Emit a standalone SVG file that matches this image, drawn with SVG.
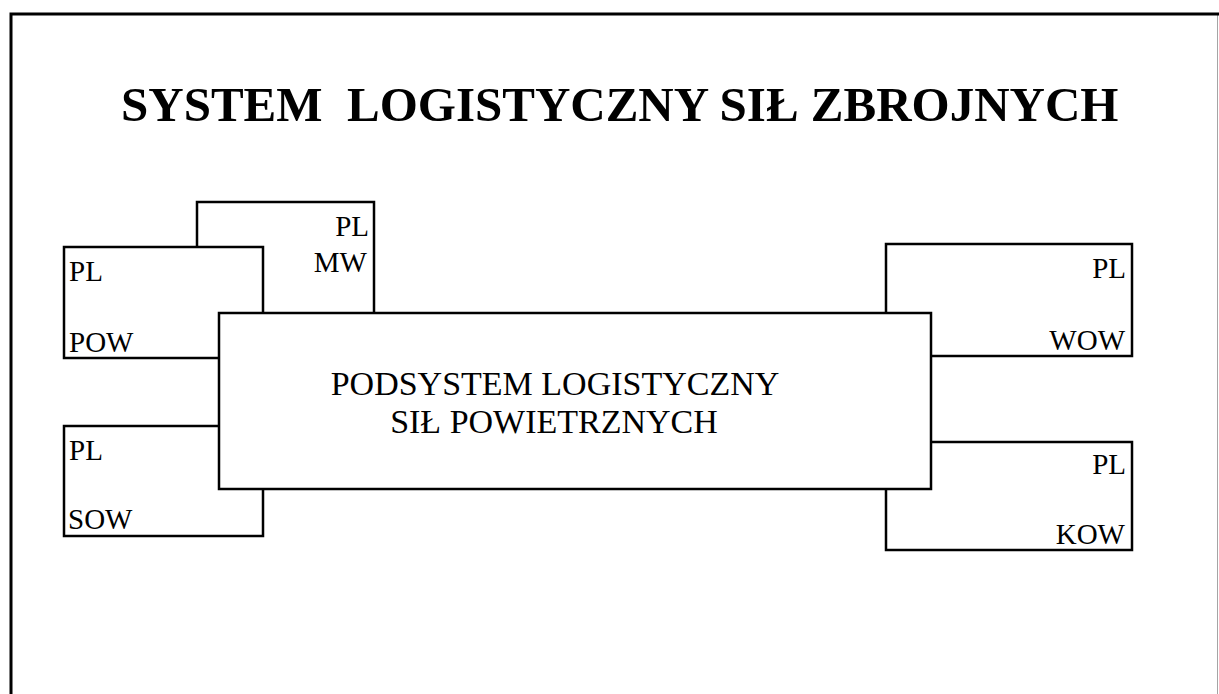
<svg xmlns="http://www.w3.org/2000/svg" width="1219" height="694" viewBox="0 0 1219 694">
<style>
.box{fill:#fff;stroke:#000;stroke-width:2.5}
.lbl{font-family:"Liberation Serif","Times New Roman",serif;font-size:29px;fill:#000}
.r{text-anchor:end}
.main{font-family:"Liberation Serif","Times New Roman",serif;font-size:34px;fill:#000;text-anchor:middle}
.title{font-family:"Liberation Serif","Times New Roman",serif;font-size:49px;font-weight:bold;fill:#000}
</style>
<rect width="1219" height="694" fill="#fff"/>
<path d="M11 694 V14 H1219" fill="none" stroke="#000" stroke-width="3"/>
<line x1="1217.5" y1="14" x2="1217.5" y2="694" stroke="#000" stroke-width="1" opacity="0.35"/>
<text id="title" class="title" x="121" y="121" xml:space="preserve">SYSTEM  LOGISTYCZNY SIŁ ZBROJNYCH</text>
<g id="connectors"></g>
<g id="mw">
<rect class="box" x="197" y="202" width="177" height="120"/>
<text class="lbl r" x="369" y="236">PL</text>
<text class="lbl r" x="367" y="272">MW</text>
</g>
<g id="pow">
<rect class="box" x="64" y="247" width="199" height="111"/>
<text class="lbl" x="69" y="281">PL</text>
<text class="lbl" x="69" y="352">POW</text>
</g>
<g id="sow">
<rect class="box" x="64" y="426" width="199" height="110"/>
<text class="lbl" x="69" y="460">PL</text>
<text class="lbl" x="68" y="529">SOW</text>
</g>
<g id="wow">
<rect class="box" x="886" y="244" width="246" height="112"/>
<text class="lbl r" x="1126" y="278">PL</text>
<text class="lbl r" x="1125" y="350">WOW</text>
</g>
<g id="kow">
<rect class="box" x="886" y="442" width="246" height="108"/>
<text class="lbl r" x="1126" y="474">PL</text>
<text class="lbl r" x="1125" y="544">KOW</text>
</g>
<g id="main">
<rect class="box" x="219" y="313" width="712" height="176"/>
<text class="main" x="555" y="395">PODSYSTEM LOGISTYCZNY</text>
<text class="main" x="554" y="433">SIŁ POWIETRZNYCH</text>
</g>
</svg>
